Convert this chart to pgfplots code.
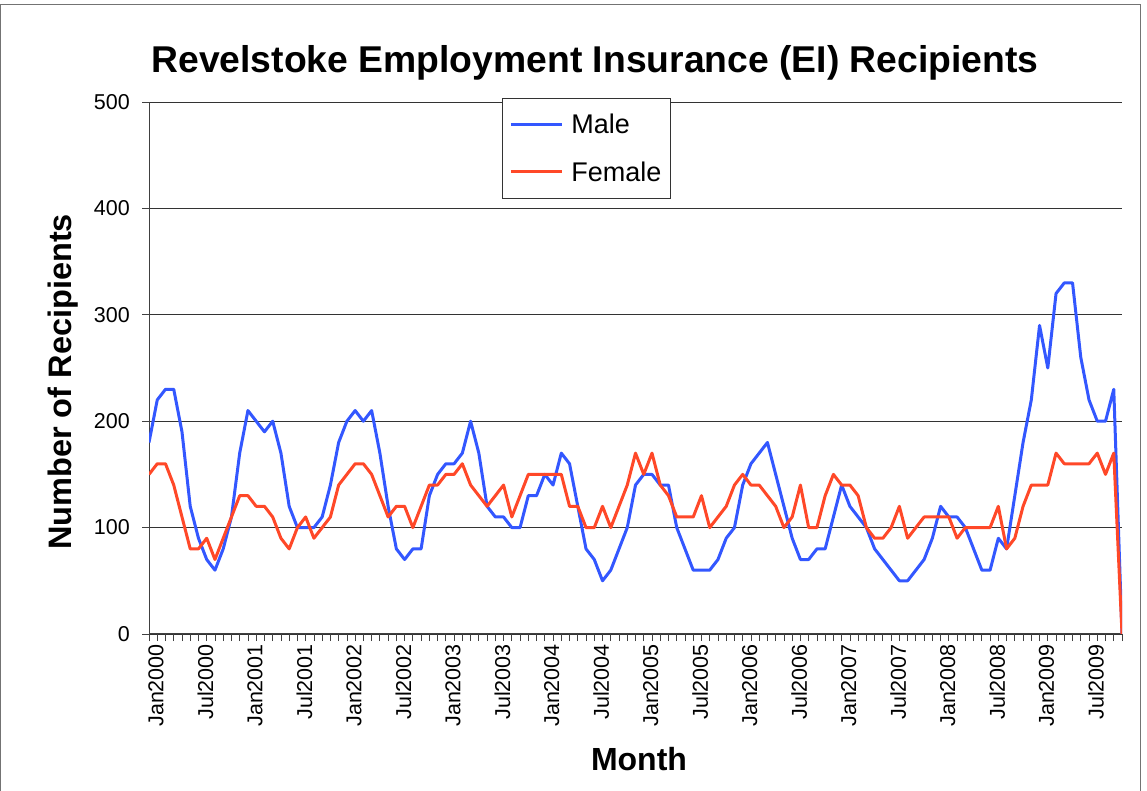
\documentclass[border=0pt]{standalone}
\usepackage{pgfplots}
\pgfplotsset{compat=1.18}
\usepackage{pgfplotstable}
\usepackage{fontspec}
\setmainfont{Liberation Sans}
\definecolor{maleblue}{RGB}{51,87,255}
\definecolor{femred}{RGB}{255,72,40}

\pgfplotstableread{
male female
180 150
220 160
230 160
230 140
190 110
120 80
90 80
70 90
60 70
80 90
110 110
170 130
210 130
200 120
190 120
200 110
170 90
120 80
100 100
100 110
100 90
110 100
140 110
180 140
200 150
210 160
200 160
210 150
170 130
120 110
80 120
70 120
80 100
80 120
130 140
150 140
160 150
160 150
170 160
200 140
170 130
120 120
110 130
110 140
100 110
100 130
130 150
130 150
150 150
140 150
170 150
160 120
120 120
80 100
70 100
50 120
60 100
80 120
100 140
140 170
150 150
150 170
140 140
140 130
100 110
80 110
60 110
60 130
60 100
70 110
90 120
100 140
140 150
160 140
170 140
180 130
150 120
120 100
90 110
70 140
70 100
80 100
80 130
110 150
140 140
120 140
110 130
100 100
80 90
70 90
60 100
50 120
50 90
60 100
70 110
90 110
120 110
110 110
110 90
100 100
80 100
60 100
60 100
90 120
80 80
130 90
180 120
220 140
290 140
250 140
320 170
330 160
330 160
260 160
220 160
200 170
200 150
230 170
0 0
}\eidata

\begin{document}
\begin{tikzpicture}
\useasboundingbox (-149pt,-157pt) rectangle (998pt,634pt);
\draw[black!55, line width=1pt] (-148pt,-170pt) -- (-148pt,629pt) -- (991pt,629pt) -- (991pt,-170pt);
\begin{axis}[
  scale only axis,
  width=973pt, height=532pt,
  xmin=0, xmax=118,
  ymin=0, ymax=500,
  axis lines=left,
  axis line style={-, black!75, line width=1pt},
  ytick={0,100,...,500},
  xtick={0,6,...,114},
  minor xtick={0,1,...,118},
  xticklabels={Jan2000,Jul2000,Jan2001,Jul2001,Jan2002,Jul2002,Jan2003,Jul2003,Jan2004,Jul2004,Jan2005,Jul2005,Jan2006,Jul2006,Jan2007,Jul2007,Jan2008,Jul2008,Jan2009,Jul2009},
  tick align=outside,
  major tick length=7pt,
  minor tick length=7pt,
  tick style={black!75, line width=0.8pt},
  ymajorgrids,
  major grid style={black!80, line width=0.9pt},
  /pgf/number format/assume math mode=true,
  tick label style={font=\fontsize{21.5}{25}\selectfont},
  xticklabel style={rotate=90, anchor=east, inner sep=0pt, xshift=-3pt, yshift=-7pt},
  yticklabel style={inner sep=0pt, xshift=-12pt},
  legend style={at={(rel axis cs:0.3628,1.0075)}, anchor=north west,
    draw=black!80, line width=0.8pt, font=\fontsize{27}{32}\selectfont,
    inner xsep=7pt, inner ysep=14pt, row sep=22pt},
  legend cell align=left,
  legend image code/.code={\draw[#1, line width=3pt] (0pt,0pt) -- (51pt,0pt); \path (57pt,0pt);},
  clip=true,
]
\addplot[maleblue, line width=3pt, line join=round] table[x expr=\coordindex, y=male] {\eidata};
\addlegendentry{Male}
\addplot[femred, line width=3pt, line join=round] table[x expr=\coordindex, y=female] {\eidata};
\addlegendentry{Female}
\end{axis}
\node[anchor=base, font=\bfseries\fontsize{37.3}{44}\selectfont] at (446pt,561pt) {Revelstoke Employment Insurance (EI) Recipients};
\node[anchor=base, rotate=90, font=\bfseries\fontsize{32.5}{39}\selectfont] at (-77pt,252pt) {Number of Recipients};
\node[anchor=base, font=\bfseries\fontsize{32}{38}\selectfont] at (490pt,-137pt) {Month};
\end{tikzpicture}
\end{document}
